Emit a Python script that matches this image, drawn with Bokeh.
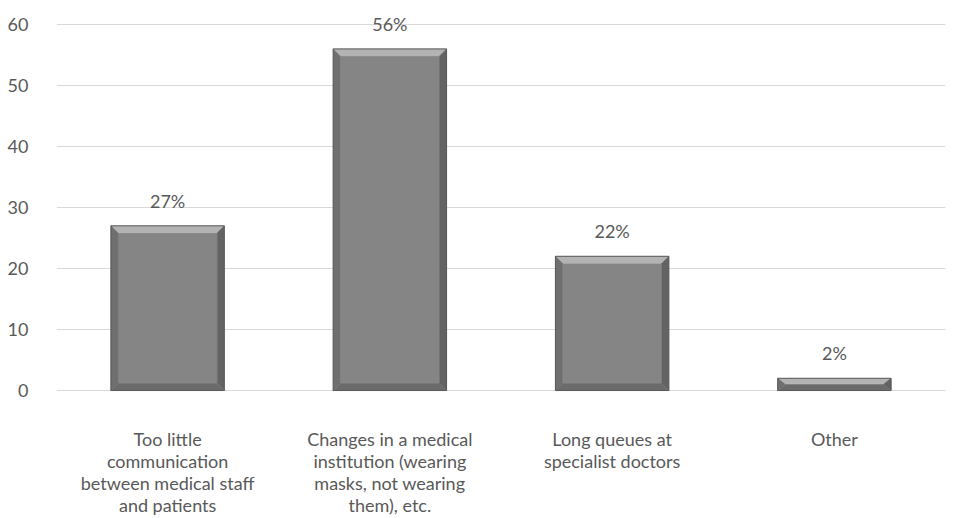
from bokeh.plotting import figure
from bokeh.models import Range1d, FixedTicker, ColumnDataSource
from bokeh.embed import file_html
from bokeh.resources import INLINE
from bokeh.core.properties import value

categories = [
    "Too little\ncommunication\nbetween medical staff\nand patients",
    "Changes in a medical\ninstitution (wearing\nmasks, not wearing\nthem), etc.",
    "Long queues at\nspecialist doctors",
    "Other",
]
shares = [27, 56, 22, 2]
y_ticks = [0, 10, 20, 30, 40, 50, 60]

FONT = "Lato"
TEXT = "#595959"
BAR_W = 0.51

W, H = 953, 518
LEFT, RIGHT, TOP, BOTTOM = 56, 8, 4, 122
Y0, Y1 = -0.98, 63.28
X0, X1 = -0.5, len(categories) - 0.5

p = figure(width=W, height=H, output_backend="svg", toolbar_location=None,
           x_range=Range1d(X0, X1), y_range=Range1d(Y0, Y1),
           min_border_left=LEFT, min_border_right=RIGHT,
           min_border_top=TOP, min_border_bottom=BOTTOM)
p.outline_line_color = None
p.background_fill_color = "white"

# pixel scale of the frame, used to size the bevel in screen pixels
fw = W - LEFT - RIGHT
fh = H - TOP - BOTTOM
px_x = (X1 - X0) / fw
px_y = (Y1 - Y0) / fh

# bevelled bars: a flat face plus four sloped facets
bevel = 7
xs_all, ys_all, colors = [], [], []
for i, v in enumerate(shares):
    x0, x1 = i - BAR_W / 2, i + BAR_W / 2
    y0, y1 = 0, v
    dx = bevel * px_x
    dy = min(bevel * px_y, v / 2.2)
    ix0, ix1, iy0, iy1 = x0 + dx, x1 - dx, y0 + dy, y1 - dy
    facets = [
        ([ix0, ix1, ix1, ix0], [iy0, iy0, iy1, iy1], "#858585"),          # face
        ([x0, x1, ix1, ix0], [y1, y1, iy1, iy1], "#b3b3b3"),              # top
        ([x0, ix0, ix0, x0], [y0, iy0, iy1, y1], "#6f6f6f"),              # left
        ([x1, x1, ix1, ix1], [y0, y1, iy1, iy0], "#636363"),              # right
        ([x0, x1, ix1, ix0], [y0, y0, iy0, iy0], "#6b6b6b"),              # bottom
    ]
    for fx, fy, c in facets:
        xs_all.append(fx)
        ys_all.append(fy)
        colors.append(c)
p.patches(xs=xs_all, ys=ys_all, fill_color=colors, line_color=colors, line_width=0.5)
# thin outline edges
p.quad(left=[i - BAR_W / 2 for i in range(len(shares))],
       right=[i + BAR_W / 2 for i in range(len(shares))],
       bottom=[0] * len(shares), top=shares,
       fill_color=None, line_color="#5a5a5a", line_width=1)

# value labels above bars
src = ColumnDataSource(dict(x=list(range(len(shares))), y=shares,
                            t=[f"{v}%" for v in shares]))
p.text(x="x", y="y", text="t", source=src, text_align="center",
       text_baseline="middle", y_offset=-25, text_color=TEXT,
       text_font=value(FONT), text_font_size="18px")

# axes
p.xaxis.ticker = FixedTicker(ticks=list(range(len(categories))))
p.xaxis.major_label_overrides = {i: c for i, c in enumerate(categories)}
p.xaxis.axis_line_color = None
p.xaxis.major_tick_line_color = None
p.xaxis.minor_tick_line_color = None
p.xaxis.major_label_standoff = 25
p.xaxis.major_label_text_font = FONT
p.xaxis.major_label_text_font_size = "18px"
p.xaxis.major_label_text_color = TEXT
p.xaxis.major_label_text_line_height = 1.0

p.yaxis.ticker = FixedTicker(ticks=y_ticks)
p.yaxis.axis_line_color = None
p.yaxis.major_tick_line_color = None
p.yaxis.minor_tick_line_color = None
p.yaxis.major_label_standoff = 22
p.yaxis.major_label_text_font = FONT
p.yaxis.major_label_text_font_size = "18px"
p.yaxis.major_label_text_color = TEXT

p.xgrid.grid_line_color = None
p.ygrid.grid_line_color = "#d9d9d9"
p.ygrid.grid_line_width = 1
p.ygrid.level = "underlay"

open("out.html", "w").write(file_html(p, INLINE))
